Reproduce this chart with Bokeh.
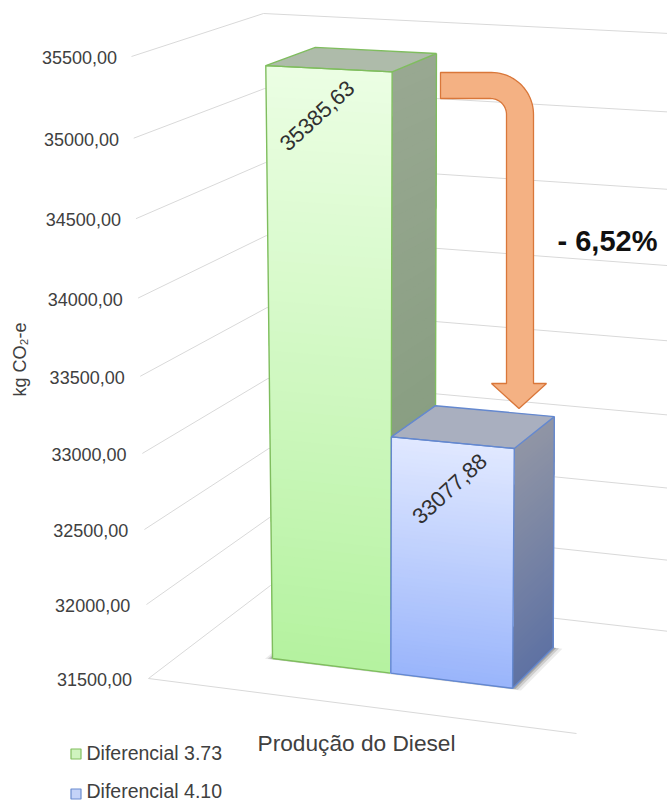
import numpy as np
from bokeh.plotting import figure
from bokeh.models import ColumnDataSource
from bokeh.core.properties import value
from bokeh.embed import file_html
from bokeh.resources import INLINE

# Chart content
TICKS = [31500, 32000, 32500, 33000, 33500, 34000, 34500, 35000, 35500]
SERIES = ["Diferencial 3.73", "Diferencial 4.10"]
BAR_VALUES = [35385.63, 33077.88]
CATEGORY = "Produção do Diesel"
Y_TITLE = "kg CO₂-e"
DIFF_LABEL = "- 6,52%"

# Pseudo-3D frame: floor and ceiling quads of the plot box on the page
FLOOR_QUAD = [(148, 678), (576, 733), (669, 631), (270, 585)]
TOP_QUAD = [(131, 56), (582, 77), (669, 33), (263, 13)]
# Columns converge a little more strongly towards the top than the walls do
BAR_TOP_QUAD = [(128, 56.5), (581, 77.5), (668, 33.5), (260, 13.5)]
PERSPECTIVE_K = -0.055
BAR_EDGES_U = [0.209, 0.496, 0.783]
BAR_D = (0.31, 0.718)
FONT = value("Liberation Sans")


def fmt(v):
    return f"{v:.2f}".replace(".", ",")


def homography(quad):
    rows, rhs = [], []
    for (u, d), (x, y) in zip([(0, 0), (1, 0), (1, 1), (0, 1)], quad):
        rows.append([u, d, 1, 0, 0, 0, -u * x, -d * x])
        rhs.append(x)
        rows.append([0, 0, 0, u, d, 1, -u * y, -d * y])
        rhs.append(y)
    return np.append(np.linalg.solve(np.array(rows, float), np.array(rhs, float)), 1).reshape(3, 3)


H_FLOOR = homography(FLOOR_QUAD)
H_TOP = homography(TOP_QUAD)
H_BAR_TOP = homography(BAR_TOP_QUAD)


def plane(H, u, d):
    v = H @ np.array([u, d, 1.0])
    return v[:2] / v[2]


def project(u, d, val, top=H_TOP):
    """Map box coordinates (across, depth, value) to page coordinates."""
    t = (val - TICKS[0]) / (TICKS[-1] - TICKS[0])
    s = t * (1 + PERSPECTIVE_K) / (1 + PERSPECTIVE_K * t)
    a, b = plane(H_FLOOR, u, d), plane(top, u, d)
    return a + (b - a) * s


def bar_point(u, d, val):
    return project(u, d, val, H_BAR_TOP)


def poly(points):
    return [float(q[0]) for q in points], [float(q[1]) for q in points]


def mix(c0, c1, f):
    a = np.array([int(c0[i:i + 2], 16) for i in (1, 3, 5)], float)
    b = np.array([int(c1[i:i + 2], 16) for i in (1, 3, 5)], float)
    r = a + (b - a) * f
    return "#%02x%02x%02x" % tuple(int(round(x)) for x in r)


p = figure(width=667, height=801, x_range=(0, 667), y_range=(801, 0),
           output_backend="svg", toolbar_location=None, min_border=0)
p.axis.visible = False
p.grid.visible = False
p.outline_line_color = None
p.background_fill_color = "#ffffff"

GRID = "#d9d9d9"
# Wall gridlines, one per tick, running over the left wall and the back wall
for v in TICKS:
    xs, ys = poly([project(0, 0, v), project(0, 1, v), project(1, 1, v)])
    p.line(xs, ys, line_color=GRID, line_width=1)
xs, ys = poly([project(0, 0, TICKS[0]), project(1, 0, TICKS[0])])
p.line(xs, ys, line_color=GRID, line_width=1)

# Soft contact shadows on the floor
u_lo, u_hi = BAR_EDGES_U[0], BAR_EDGES_U[-1]
for grow, alpha in [(0.022, 0.10), (0.014, 0.18), (0.007, 0.28)]:
    xs, ys = poly([project(u_lo - grow * 0.7, BAR_D[0] - grow * 0.5, TICKS[0]),
                   project(u_hi + grow, BAR_D[0] - grow * 0.5, TICKS[0]),
                   project(u_hi + grow, BAR_D[1], TICKS[0]),
                   project(u_lo - grow * 0.7, BAR_D[1], TICKS[0])])
    p.patch(xs, ys, fill_color="#404040", fill_alpha=alpha, line_color=None)


def shaded_face(corner_a, corner_b, val, c_top, c_bottom, steps=60):
    """Fill a vertical face with a top-to-bottom gradient: each layer reaches the
    floor and the next one paints over it, so no seams appear between the bands."""
    levels = np.linspace(val, TICKS[0], steps + 1)
    rows = {"xs": [], "ys": [], "color": []}
    base = TICKS[0]
    for i in range(steps):
        xs, ys = poly([bar_point(*corner_a, levels[i]), bar_point(*corner_b, levels[i]),
                       bar_point(*corner_b, base), bar_point(*corner_a, base)])
        rows["xs"].append(xs)
        rows["ys"].append(ys)
        rows["color"].append(mix(c_top, c_bottom, i / (steps - 1)))
    p.patches("xs", "ys", fill_color="color", line_color=None, source=ColumnDataSource(rows))


BAR_STYLES = [
    dict(top="#aebbaa", side=("#98a891", "#7f9878"), front=("#ebfee3", "#b5f2a0"), edge="#7fbd5e"),
    dict(top="#a9afbf", side=("#9095a5", "#5f72a3"), front=("#e0e8ff", "#9ab5fb"), edge="#6488cf"),
]

for i, val in enumerate(BAR_VALUES):
    st = BAR_STYLES[i]
    u0, u1 = BAR_EDGES_U[i], BAR_EDGES_U[i + 1]
    d0, d1 = BAR_D
    shaded_face((u1, d0), (u1, d1), val, *st["side"])
    shaded_face((u0, d0), (u1, d0), val, *st["front"])
    xs, ys = poly([bar_point(u0, d0, val), bar_point(u1, d0, val), bar_point(u1, d1, val), bar_point(u0, d1, val)])
    p.patch(xs, ys, fill_color=st["top"], line_color=st["edge"], line_width=1.4)
    xs, ys = poly([bar_point(u0, d0, TICKS[0]), bar_point(u1, d0, TICKS[0]), bar_point(u1, d0, val),
                   bar_point(u0, d0, val), bar_point(u0, d0, TICKS[0])])
    p.line(xs, ys, line_color=st["edge"], line_width=1.4)
    xs, ys = poly([bar_point(u1, d0, TICKS[0]), bar_point(u1, d1, TICKS[0]), bar_point(u1, d1, val)])
    p.line(xs, ys, line_color=st["edge"], line_width=1.4)

# Value labels printed diagonally on the bar fronts
LABEL_OFFSET = [(-12, 47), (-3, 46)]
LABEL_ANGLE = [0.74, 0.74]
for i, val in enumerate(BAR_VALUES):
    c = bar_point((BAR_EDGES_U[i] + BAR_EDGES_U[i + 1]) / 2, BAR_D[0], val)
    p.text([float(c[0]) + LABEL_OFFSET[i][0]], [float(c[1]) + LABEL_OFFSET[i][1]], text=[fmt(val)],
           angle=LABEL_ANGLE[i], text_font=FONT, text_font_size="22px", text_color="#303030",
           text_align="center", text_baseline="middle")

# Tick labels to the left of the wall's front edge
for v in TICKS:
    c = project(0, 0, v)
    right = float(c[0]) - 14.5 - (float(c[0]) - 131) * 0.12
    p.text([right], [float(c[1]) + 1], text=[fmt(v)], text_font=FONT, text_font_size="18px",
           text_color="#404040", text_align="right", text_baseline="middle")

p.text([19], [359], text=[Y_TITLE], angle=np.pi / 2, text_font=FONT, text_font_size="18px",
       text_color="#404040", text_align="center", text_baseline="middle")
p.text([356], [742], text=[CATEGORY], text_font=FONT, text_font_size="22.7px", text_color="#404040",
       text_align="center", text_baseline="middle")

# Bent arrow between the two bars
ARM_Y = (72, 98)
SHAFT_X = (506, 533)
HEAD = (383, 491, 546, 408)
R_OUT, R_IN = 42, 16
ang = np.linspace(-np.pi / 2, 0, 24)
outer = [(SHAFT_X[1] - R_OUT + R_OUT * np.cos(a), ARM_Y[0] + R_OUT + R_OUT * np.sin(a)) for a in ang]
inner = [(SHAFT_X[0] - R_IN + R_IN * np.cos(a), ARM_Y[1] + R_IN + R_IN * np.sin(a)) for a in ang[::-1]]
shape = [(440, ARM_Y[0])] + outer + [(SHAFT_X[1], HEAD[0]), (HEAD[2], HEAD[0]),
                                     ((HEAD[1] + HEAD[2]) / 2, HEAD[3]), (HEAD[1], HEAD[0]),
                                     (SHAFT_X[0], HEAD[0])] + inner + [(440, ARM_Y[1])]
xs, ys = poly(shape)
p.patch(xs, ys, fill_color="#f4b183", line_color="#d9773a", line_width=1.3)
p.text([607], [240], text=[DIFF_LABEL], text_font=FONT, text_font_style="bold", text_font_size="29px",
       text_color="#111111", text_align="center", text_baseline="middle")

# Legend entries
LEGEND_Y = [752, 790]
SWATCH_Y = [753.5, 793.5]
SWATCH_FILL = ["#cff3be", "#c4d3f8"]
SWATCH_EDGE = ["#82be5e", "#6a8ccf"]
for name, y, sy, f, e in zip(SERIES, LEGEND_Y, SWATCH_Y, SWATCH_FILL, SWATCH_EDGE):
    p.quad(left=[70.5], right=[80.5], top=[sy - 5], bottom=[sy + 5], fill_color=f, line_color=e, line_width=1.2)
    p.text([86], [y], text=[name], text_font=FONT, text_font_size="19.5px", text_color="#404040",
           text_align="left", text_baseline="middle")

open("out.html", "w").write(file_html(p, INLINE))
